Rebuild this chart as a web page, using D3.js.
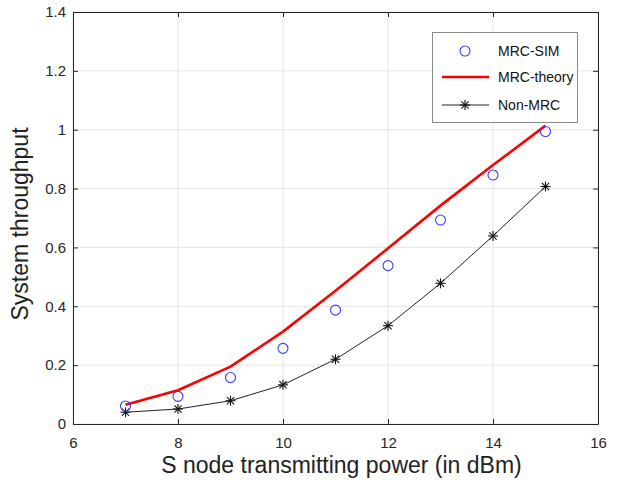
<!DOCTYPE html>
<html><head><meta charset="utf-8">
<script src="https://d3js.org/d3.v7.min.js"></script>
<style>body{margin:0;background:#fff;} text{font-family:"Liberation Sans",Arial,sans-serif;}</style>
</head><body>
<svg id="c" width="620" height="480"></svg>
<script>
const xVals = [7, 8, 9, 10, 11, 12, 13, 14, 15];
const mrcSim = [0.061, 0.094, 0.158, 0.257, 0.387, 0.538, 0.693, 0.846, 0.994];
const mrcTheory = [0.065, 0.115, 0.195, 0.314, 0.453, 0.597, 0.742, 0.880, 1.014];
const nonMrc = [0.040, 0.051, 0.079, 0.133, 0.220, 0.334, 0.478, 0.639, 0.807];
const xTicks = [6, 8, 10, 12, 14, 16];
const yTicks = [0, 0.2, 0.4, 0.6, 0.8, 1, 1.2, 1.4];
const seriesNames = ["MRC-SIM", "MRC-theory", "Non-MRC"];

const svg = d3.select("#c");
const L = 73, R = 598, T = 12, B = 424;
const x = d3.scaleLinear().domain([6, 16]).range([L, R]);
const y = d3.scaleLinear().domain([0, 1.4]).range([B, T]);
const axisCol = "#262626";

// grid
const g = svg.append("g");
g.selectAll(".gx").data(xTicks).enter().append("line")
  .attr("x1", d => x(d)).attr("x2", d => x(d)).attr("y1", T).attr("y2", B)
  .attr("stroke", "#e6e6e6").attr("stroke-width", 1);
g.selectAll(".gy").data(yTicks).enter().append("line")
  .attr("x1", L).attr("x2", R).attr("y1", d => y(d)).attr("y2", d => y(d))
  .attr("stroke", "#e6e6e6").attr("stroke-width", 1);

// axes
const fmt = d => d3.format("~g")(d);
const xAxis = d3.axisBottom(x).tickValues(xTicks).tickFormat(fmt).tickSizeInner(-5).tickSizeOuter(0).tickPadding(13);
const yAxis = d3.axisLeft(y).tickValues(yTicks).tickFormat(fmt).tickSizeInner(-5).tickSizeOuter(0).tickPadding(7);
const gx = svg.append("g").attr("transform", `translate(0,${B})`).call(xAxis);
const gy = svg.append("g").attr("transform", `translate(${L},0)`).call(yAxis);
const gx2 = svg.append("g").attr("transform", `translate(0,${T})`).call(d3.axisTop(x).tickValues(xTicks).tickFormat("").tickSizeInner(-5).tickSizeOuter(0));
const gy2 = svg.append("g").attr("transform", `translate(${R},0)`).call(d3.axisRight(y).tickValues(yTicks).tickFormat("").tickSizeInner(-5).tickSizeOuter(0));
[gx, gy, gx2, gy2].forEach(a => {
  a.select(".domain").attr("stroke", axisCol).attr("stroke-width", 1);
  a.selectAll(".tick line").attr("stroke", axisCol);
  a.selectAll(".tick text").attr("fill", axisCol).style("font-size", "15px").style("font-family", "Liberation Sans, Arial, sans-serif");
});

// lines
const line = d3.line().x((d, i) => x(xVals[i])).y(d => y(d));
svg.append("path").datum(nonMrc).attr("d", line).attr("fill", "none").attr("stroke", "#222").attr("stroke-width", 1);
svg.append("path").datum(mrcTheory).attr("d", line).attr("fill", "none").attr("stroke", "#ff0000").attr("stroke-width", 2.6);

// asterisk markers
function star(sel, cx, cy, s) {
  const gg = sel.append("g").attr("transform", `translate(${cx},${cy})`).attr("stroke", "#111").attr("stroke-width", 1.1);
  gg.append("line").attr("x1", -s).attr("x2", s).attr("y1", 0).attr("y2", 0);
  gg.append("line").attr("x1", 0).attr("x2", 0).attr("y1", -s).attr("y2", s);
  const d = s * 0.72;
  gg.append("line").attr("x1", -d).attr("x2", d).attr("y1", -d).attr("y2", d);
  gg.append("line").attr("x1", -d).attr("x2", d).attr("y1", d).attr("y2", -d);
}
nonMrc.forEach((v, i) => star(svg, x(xVals[i]), y(v), 5));

// circles
svg.selectAll(".sim").data(mrcSim).enter().append("circle")
  .attr("cx", (d, i) => x(xVals[i])).attr("cy", d => y(d)).attr("r", 5)
  .attr("fill", "none").attr("stroke", "#3a3aff").attr("stroke-width", 1.1);

// legend
const lg = svg.append("g");
lg.append("rect").attr("x", 432.5).attr("y", 32.5).attr("width", 145).attr("height", 90)
  .attr("fill", "#fff").attr("stroke", "#8a8a8a").attr("stroke-width", 1);
const ly = [51, 77, 105];
lg.append("circle").attr("cx", 465).attr("cy", ly[0]).attr("r", 5).attr("fill", "none").attr("stroke", "#3a3aff").attr("stroke-width", 1.1);
lg.append("line").attr("x1", 442).attr("x2", 489).attr("y1", ly[1]).attr("y2", ly[1]).attr("stroke", "#ff0000").attr("stroke-width", 2.6);
lg.append("line").attr("x1", 442).attr("x2", 489).attr("y1", ly[2]).attr("y2", ly[2]).attr("stroke", "#222").attr("stroke-width", 1);
star(lg, 465, ly[2], 5);
lg.selectAll(".lt").data(seriesNames).enter().append("text")
  .attr("x", 498).attr("y", (d, i) => ly[i]).attr("dy", "0.35em")
  .attr("fill", "#111").style("font-size", "14px").text(d => d);

// titles
svg.append("text").attr("x", (L + R) / 2 + 6).attr("y", 473).attr("text-anchor", "middle")
  .attr("fill", "#222").style("font-size", "23px").text("S node transmitting power (in dBm)");
svg.append("text").attr("transform", `translate(28,${(T + B) / 2 + 6}) rotate(-90)`).attr("text-anchor", "middle")
  .attr("fill", "#222").style("font-size", "23px").text("System throughput");
</script>
</body></html>
